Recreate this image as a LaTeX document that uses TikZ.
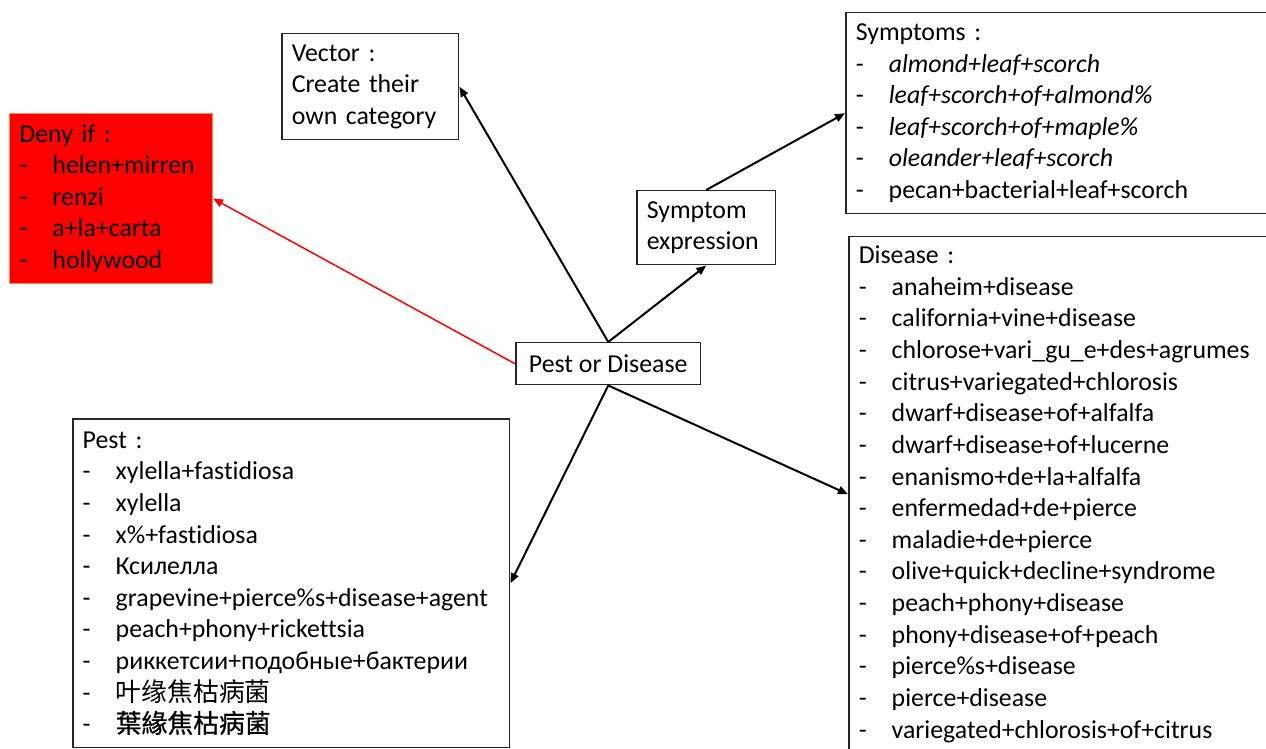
\documentclass[tikz,border=0pt]{standalone}
\usepackage{fontspec}
\setmainfont{Carlito}[Ligatures=NoCommon]
\newfontfamily\cjksc{Noto Sans CJK SC}
\newfontfamily\cjktc{Noto Sans CJK TC}[FakeBold=0.8]
\usetikzlibrary{arrows.meta}

% list item: dash, then indented entry
\newcommand{\itm}[1]{\makebox[0.66cm][l]{-}#1}

\begin{document}
\begin{tikzpicture}[x=0.02cm, y=-0.02cm,
    box/.style={draw=black!85, line width=0.03cm, anchor=north west, align=left,
                inner xsep=0.2cm, inner ysep=0pt, font=\fontsize{14.7}{18}\selectfont},
    link/.style={line width=0.04cm, -{Triangle[length=0.2cm, width=0.16cm]}}]
    \definecolor{denyRed}{RGB}{255,0,0}
    \definecolor{denyEdge}{RGB}{240,140,90}

    \useasboundingbox (0,0) rectangle (1266,749);
    \clip (0,0) rectangle (1266,749);

    % Centre
    \node[box, align=center, minimum width=3.7cm, minimum height=0.84cm] (pod) at (515,342) {Pest or Disease};

    % Liste rouge
    \node[box, fill=denyRed, draw=denyEdge, line width=0.02cm, text width=3.66cm, minimum height=3.4cm] (deny) at (9,113)
        {Deny if :\\ \itm{helen+mirren}\\ \itm{renzi}\\ \itm{a+la+carta}\\ \itm{hollywood}};

    % Vecteur
    \node[box, text width=3.14cm, minimum height=2.12cm] (vector) at (281,33)
        {Vector :\\ Create their\\ own category};

    % Symptômes
    \node[box, text width=2.38cm, minimum height=1.48cm] (symexp) at (636,190)
        {Symptom\\ expression};
    \node[box, text width=8.2cm, minimum height=4.02cm] (symptoms) at (845,12)
        {Symptoms :\\ \itm{\textit{almond+leaf+scorch}}\\ \itm{\textit{leaf+scorch+of+almond\%}}\\
         \itm{\textit{leaf+scorch+of+maple\%}}\\ \itm{\textit{oleander+leaf+scorch}}\\
         \itm{pecan+bacterial+leaf+scorch}};

    % Ravageur
    \node[box, text width=8.34cm, minimum height=6.58cm] (pest) at (72,418)
        {Pest :\\ \itm{xylella+fastidiosa}\\ \itm{xylella}\\ \itm{x\%+fastidiosa}\\ \itm{Ксилелла}\\
         \itm{grapevine+pierce\%s+disease+agent}\\ \itm{peach+phony+rickettsia}\\
         \itm{риккетсии+подобные+бактерии}\\ \itm{{\cjksc 叶缘焦枯病菌}}\\ \itm{{\cjktc 葉緣焦枯病菌}}};

    % Maladie
    \node[box, text width=8.2cm, minimum height=10.3cm] (disease) at (848,236)
        {Disease :\\ \itm{anaheim+disease}\\ \itm{california+vine+disease}\\ \itm{chlorose+vari\_gu\_e+des+agrumes}\\
         \itm{citrus+variegated+chlorosis}\\ \itm{dwarf+disease+of+alfalfa}\\ \itm{dwarf+disease+of+lucerne}\\
         \itm{enanismo+de+la+alfalfa}\\ \itm{enfermedad+de+pierce}\\ \itm{maladie+de+pierce}\\
         \itm{olive+quick+decline+syndrome}\\ \itm{peach+phony+disease}\\ \itm{phony+disease+of+peach}\\
         \itm{pierce\%s+disease}\\ \itm{pierce+disease}\\ \itm{variegated+chlorosis+of+citrus}};

    % Flèches
    \draw[link, red, line width=0.03cm] (pod.west) -- (deny.east);
    \draw[link] (pod.north) -- (vector.east);
    \draw[link] (pod.north) -- (symexp.south);
    \draw[link] (symexp.north) -- (symptoms.west);
    \draw[link] (pod.south) -- (pest.east);
    \draw[link] (pod.south) -- (disease.west);
\end{tikzpicture}
\end{document}
